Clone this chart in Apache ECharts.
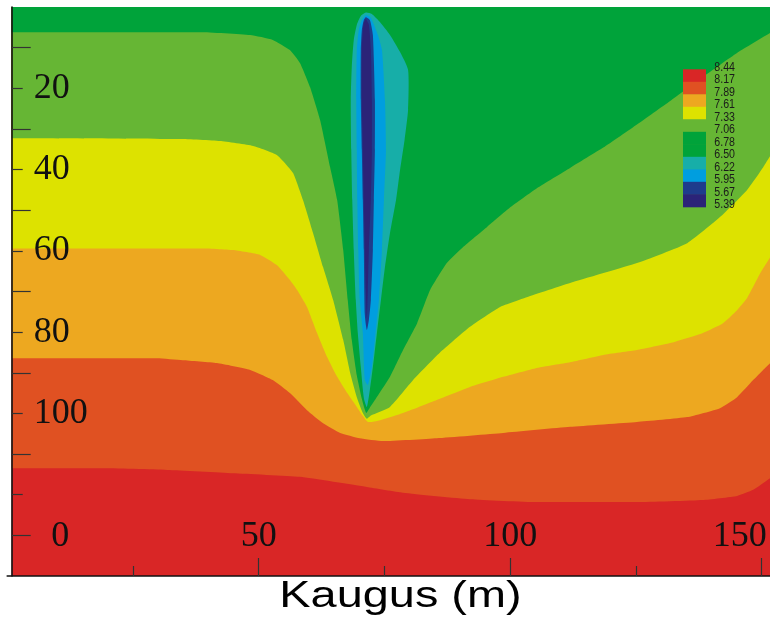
<!DOCTYPE html>
<html><head><meta charset="utf-8">
<script src="https://cdn.jsdelivr.net/npm/echarts@6/dist/echarts.min.js"></script>
<style>html,body{margin:0;padding:0;background:#fff}#c{width:770px;height:625px}</style>
</head><body><div id="c"></div>
<script>
// ---- colours of the value bands (top of legend = highest value)
const legendLevels = ['8.44','8.17','7.89','7.61','7.33','7.06','6.78','6.50','6.22','5.95','5.67','5.39'];
const legendColors = ['#D92626','#E05122','#EDA820','#DDE200','#66B634','#00A33A','#00A33A','#17AEA8','#009EDF','#1E3C8C','#2B2378'];

// ---- axis ticks / labels
const xTickLong = [50, 100, 150];
const xTickShort = [25, 75, 125];
const xTickLabels = [0, 50, 100, 150];
const yTickShort = [20, 40, 60, 80, 100, 120];
const yTickLong = [10, 30, 50, 70, 90, 110, 130];
const yTickLabels = [20, 40, 60, 80, 100];
const xName = 'Kaugus (m)';

// ---- contour boundaries [distance m, depth]
const plotBottom = [[0.9,140],[153,140]];
const bound817 = [[0.9,113.5],[18.5,113.5],[31.8,113.9],[44.9,114.7],[58.2,115.6],[71.5,118.1],[78.7,119.5],[92.0,121.1],[105.3,121.8],[125.2,121.8],[138.3,121.3],[145.1,120.3],[148.3,118.8],[151.7,115.9],[153,114.5]];
const bound789 = [[0.9,86.4],[29.8,86.4],[34.9,86.9],[41.7,87.6],[48.3,89.3],[52.8,91.8],[56.2,95.0],[59.6,99.2],[62.8,102.4],[66.2,104.8],[70.1,106.1],[74.7,106.8],[85.4,106.1],[98.6,104.8],[111.9,103.3],[125.2,102.1],[135.2,100.9],[141.7,98.7],[145.1,96.0],[148.3,91.8],[150.3,89.3],[151.7,87.6],[153,85.5]];
const bound761 = [[0.9,59.4],[38.3,59.4],[44.9,59.8],[50.3,61.0],[53.6,63.5],[56.2,67.2],[57.6,69.6],[59.6,73.8],[61.6,80.2],[63.6,86.1],[65.6,91.0],[67.6,95.0],[69.5,98.4],[70.7,100.6],[71.7,102.1],[72.5,102.1],[78.7,99.9],[85.4,96.7],[92.0,93.5],[98.6,91.0],[105.3,88.8],[111.9,87.4],[118.5,85.6],[125.2,84.4],[131.8,82.7],[138.3,80.2],[142.3,77.8],[145.1,74.6],[147.1,71.6],[149.7,65.5],[151.7,61.5],[153,58.8]];
const bound733 = [[0.9,32.3],[34.3,32.5],[42.3,33.0],[48.9,34.2],[53.6,36.4],[56.8,40.8],[58.8,47.5],[60.8,55.6],[62.8,64.0],[64.8,72.1],[66.8,81.9],[68.2,90.1],[69.5,96.0],[70.7,99.9],[71.5,101.3],[72.3,100.5],[76.1,98.4],[80.7,91.8],[86.0,85.1],[92.0,78.7],[98.0,73.8],[103.3,71.4],[111.9,67.9],[125.2,63.0],[135.2,58.1],[141.7,51.7],[147.1,45.0],[150.3,39.4],[153,34.0]];
const bound706 = [[0.9,6.2],[38.3,6.2],[48.3,6.9],[52.8,8.1],[56.2,10.6],[58.2,13.8],[60.2,19.7],[62.2,27.8],[64.2,39.4],[65.6,47.5],[66.8,59.8],[67.7,72.1],[68.5,81.9],[69.5,90.6],[70.5,96.4],[71.4,99.9],[72.3,98.2],[73.7,95.6],[76.1,91.0],[78.7,84.4],[81.5,77.8],[84.1,69.6],[87.4,63.0],[90.6,59.1],[95.4,54.1],[99.9,49.4],[105.3,44.6],[111.9,39.6],[118.5,34.6],[125.2,28.9],[131.8,23.1],[138.3,17.2],[145.1,11.3],[153,5.4]];

// ---- low-value plume (closed outlines)
const plume650 = [[71.3,1.35],[72.5,1.7],[74.1,3.7],[76.1,6.9],[78.1,11.1],[79.7,15.5],[79.7,25.3],[79.0,32.7],[78.1,40.1],[77.3,47.5],[76.1,55.6],[75.1,64.0],[74.3,72.1],[73.5,80.2],[72.7,88.6],[72.1,94.2],[71.5,98.4],[70.9,96.2],[70.3,88.6],[69.7,80.2],[69.3,72.1],[68.9,59.8],[68.6,47.5],[68.4,35.2],[68.3,22.9],[68.5,14.8],[68.9,8.1],[69.5,4.4],[70.3,2.2]];
const plume622 = [[71.3,2.0],[72.3,2.7],[73.7,6.9],[74.5,10.6],[75.1,22.9],[75.3,35.2],[74.9,47.5],[74.5,59.8],[73.9,72.1],[73.1,81.9],[72.5,88.6],[71.7,93.0],[71.1,91.8],[70.7,80.2],[70.1,72.1],[69.8,59.8],[69.6,47.5],[69.5,35.2],[69.4,22.9],[69.5,10.6],[69.9,5.7],[70.5,3.2]];
const plume595 = [[71.3,2.5],[72.1,3.2],[72.7,6.9],[73.1,22.9],[73.1,35.2],[72.9,47.5],[72.7,59.8],[72.3,72.1],[71.9,77.0],[71.5,79.5],[71.1,75.8],[70.9,59.8],[70.7,47.5],[70.5,35.2],[70.3,22.9],[70.3,10.6],[70.5,5.7],[70.9,3.2]];
const plume567 = [[71.3,3.0],[71.9,4.4],[72.3,10.6],[72.5,22.9],[72.5,35.2],[72.3,47.5],[71.9,59.8],[71.7,69.6],[71.5,76.5],[71.3,69.6],[71.1,59.8],[70.9,47.5],[70.7,35.2],[70.5,22.9],[70.5,10.6],[70.7,5.7],[70.9,3.9]];

// ---- build
const bands = [
  {data: plotBottom, color: legendColors[0]},
  {data: bound817, color: legendColors[1]},
  {data: bound789, color: legendColors[2]},
  {data: bound761, color: legendColors[3]},
  {data: bound733, color: legendColors[4]},
  {data: bound706, color: legendColors[5]}
];
const plumes = [
  {pts: plume650, color: legendColors[7]},
  {pts: plume622, color: legendColors[8]},
  {pts: plume595, color: legendColors[9]},
  {pts: plume567, color: legendColors[10]}
];

const series = bands.map(b => ({
  type: 'line', xAxisIndex: 0, yAxisIndex: 0, data: b.data,
  symbol: 'none', smooth: 0.15, silent: true,
  lineStyle: {width: 0, opacity: 0},
  areaStyle: {color: b.color, opacity: 1, origin: 'start'},
  z: 1
}));
series.push({
  type: 'custom', coordinateSystem: 'cartesian2d', xAxisIndex: 0, yAxisIndex: 0,
  data: plumes.map((p, i) => [p.pts[0][0], p.pts[0][1], i]),
  silent: true, z: 2,
  renderItem: (params, api) => {
    const p = plumes[api.value(2)];
    return {type: 'polygon', shape: {points: p.pts.map(q => api.coord(q)), smooth: 0.2}, style: {fill: p.color}};
  }
});

const serif = "'Liberation Serif', 'Times New Roman', serif";
const graphic = [];
legendColors.forEach((c, i) => {
  graphic.push({type: 'rect', shape: {x: 683, y: 69.3 + i * 12.5, width: 23, height: 13}, style: {fill: c}, z: 100, silent: true});
});
legendLevels.forEach((t, i) => {
  graphic.push({type: 'text', x: 714.3, y: 67.5 + i * 12.5, scaleX: 0.885, z: 101, silent: true,
    style: {text: t, fill: '#1a1a1a', font: "12px 'Liberation Sans', Arial, sans-serif", align: 'left', verticalAlign: 'middle'}});
});
graphic.push({type: 'text', x: 400.5, y: 597, scaleX: 1.267, z: 101, silent: true,
  style: {text: xName, fill: '#000', font: "37px 'Liberation Sans', Arial, sans-serif", align: 'center', verticalAlign: 'middle'}});

const chart = echarts.init(document.getElementById('c'), null, {renderer: 'canvas'});
const gridLayout = {left: 7.2, top: 7, width: 769.6, height: 569, outerBoundsMode: 'none'};
chart.setOption({
  animation: false,
  backgroundColor: '#fff',
  grid: gridLayout,
  xAxis: [
    {type: 'value', position: 'bottom', min: 0, max: 153, z: 10,
     axisLine: {show: true, onZero: false, lineStyle: {color: '#111', width: 1.6}},
     axisTick: {show: true, inside: true, length: 18, customValues: xTickLong, lineStyle: {color: '#333', width: 1.2}},
     splitLine: {show: false},
     axisLabel: {show: true, inside: true, margin: 39, verticalAlign: 'middle', customValues: xTickLabels,
       color: '#111', fontFamily: serif, fontSize: 36,
       formatter: v => v === 0 ? '{a|0}' : v === 150 ? '{b|150}' : String(v),
       rich: {a: {padding: [0, 0, 0, 106], fontFamily: serif, fontSize: 36, color: '#111'},
              b: {padding: [0, 44, 0, 0], fontFamily: serif, fontSize: 36, color: '#111'}}}},
    {type: 'value', position: 'bottom', min: 0, max: 153, z: 10,
     axisLine: {show: false, onZero: false},
     axisTick: {show: true, inside: true, length: 10, customValues: xTickShort, lineStyle: {color: '#333', width: 1.2}},
     splitLine: {show: false}, axisLabel: {show: false}}
  ],
  yAxis: [
    {type: 'value', position: 'left', inverse: true, min: 0, max: 140, offset: -4.5, z: 10,
     axisLine: {show: true, onZero: false, lineStyle: {color: '#111', width: 1.6}},
     axisTick: {show: true, inside: true, length: 11, customValues: yTickShort, lineStyle: {color: '#333', width: 1.2}},
     splitLine: {show: false},
     axisLabel: {show: true, inside: true, margin: 22, customValues: yTickLabels, color: '#111', fontFamily: serif, fontSize: 36}},
    {type: 'value', position: 'left', inverse: true, min: 0, max: 140, offset: -4.5, z: 10,
     axisLine: {show: false, onZero: false},
     axisTick: {show: true, inside: true, length: 19, customValues: yTickLong, lineStyle: {color: '#333', width: 1.2}},
     splitLine: {show: false}, axisLabel: {show: false}}
  ],
  graphic: graphic,
  series: series
});
</script>
</body></html>
